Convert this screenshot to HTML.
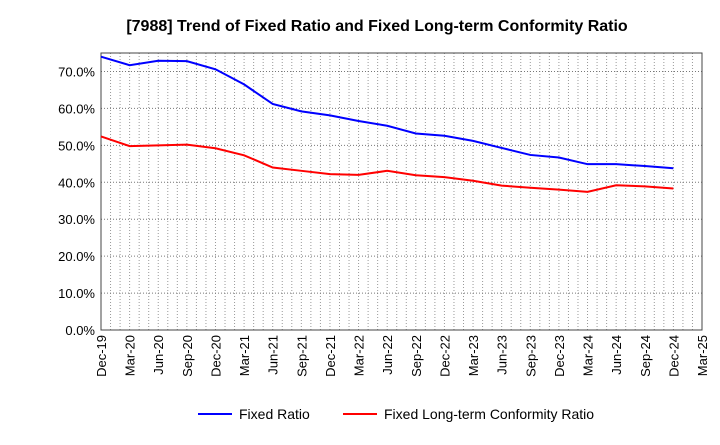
<!DOCTYPE html>
<html><head><meta charset="utf-8"><style>
body{margin:0;background:#fff;font-family:"Liberation Sans",sans-serif}
</style></head><body>
<svg id="c" width="720" height="440" xmlns="http://www.w3.org/2000/svg">
<text x="377" y="31" text-anchor="middle" font-size="16" font-weight="bold" font-family="Liberation Sans">[7988]  Trend of Fixed Ratio and Fixed Long-term Conformity Ratio</text>
<g id="grid"></g><g id="axes"></g><g id="series"></g>
<g>
<line x1="198" y1="414" x2="232" y2="414" stroke="#0000ff" stroke-width="2"/>
<text x="239" y="419" font-size="14">Fixed Ratio</text>
<line x1="343" y1="414" x2="377" y2="414" stroke="#ff0000" stroke-width="2"/>
<text x="384" y="419" font-size="14">Fixed Long-term Conformity Ratio</text>
</g>
</svg>
<script>
const categories=["Dec-19","Mar-20","Jun-20","Sep-20","Dec-20","Mar-21","Jun-21","Sep-21","Dec-21","Mar-22","Jun-22","Sep-22","Dec-22","Mar-23","Jun-23","Sep-23","Dec-23","Mar-24","Jun-24","Sep-24","Dec-24","Mar-25"];
const fixedRatio=[74.0,71.7,72.9,72.8,70.6,66.5,61.2,59.2,58.1,56.6,55.3,53.2,52.6,51.2,49.3,47.4,46.7,44.9,44.9,44.4,43.8];
const conformityRatio=[52.4,49.8,50.0,50.2,49.2,47.3,44.0,43.1,42.2,42.0,43.1,41.9,41.4,40.4,39.1,38.5,38.0,37.4,39.2,38.9,38.3];
const yTicks=[0,10,20,30,40,50,60,70];
const L=101,R=702,T=53,B=330,yMax=75;
const NS="http://www.w3.org/2000/svg";
const xs=i=>L+(R-L)*i/(categories.length-1);
const ys=v=>B-(B-T)*v/yMax;
function mk(p,tag,attrs){const e=document.createElementNS(NS,tag);for(const k in attrs)e.setAttribute(k,attrs[k]);document.getElementById(p).appendChild(e);return e;}
const nM=(categories.length-1)*3;
for(let m=1;m<nM;m++){const x=L+(R-L)*m/nM;
const g=mk("grid","line",{x1:x,y1:T,x2:x,y2:B,stroke:"#999","stroke-dasharray":"1,2","stroke-width":1});

}
yTicks.forEach(v=>{const y=ys(v);
if(v>0){const g=mk("grid","line",{x1:L,y1:y,x2:R,y2:y,stroke:"#777","stroke-dasharray":"1,2","stroke-width":1});

}
const t=mk("axes","text",{x:L-6,y:y+5,"text-anchor":"end","font-size":13});t.textContent=v.toFixed(1)+"%";

});
const fr=mk("axes","rect",{x:L,y:T,width:R-L,height:B-T,fill:"none",stroke:"#444","stroke-width":1});


categories.forEach((c,i)=>{const x=xs(i);
const t=mk("axes","text",{transform:`translate(${x+5},${B+5}) rotate(-90)`,"text-anchor":"end","font-size":13});t.textContent=c;

});
function line(d,col,name){const p=mk("series","polyline",{points:d.map((v,i)=>xs(i)+","+ys(v)).join(" "),fill:"none",stroke:col,"stroke-width":2});

}
line(fixedRatio,"#0000ff","fixed-ratio-line");
line(conformityRatio,"#ff0000","conformity-ratio-line");
</script>
</body></html>
